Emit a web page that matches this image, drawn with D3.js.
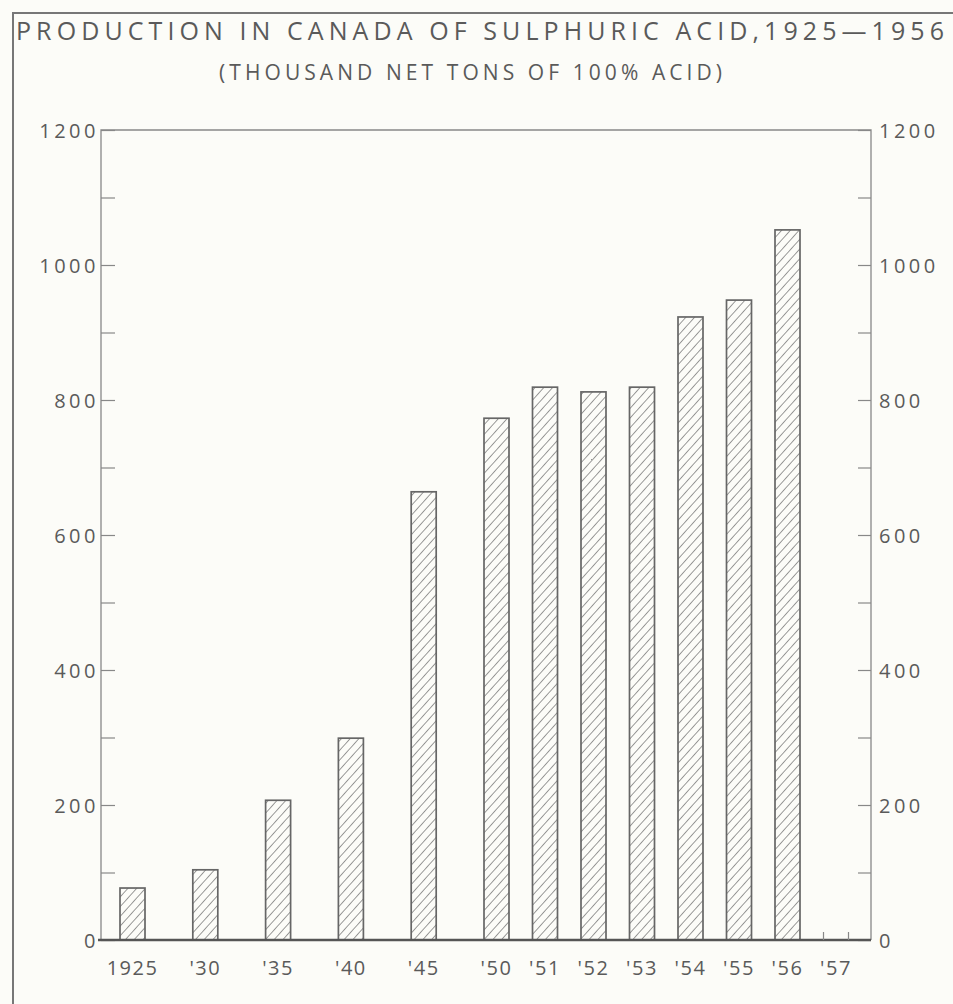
<!DOCTYPE html>
<html>
<head>
<meta charset="utf-8">
<script src="https://cdn.jsdelivr.net/npm/d3@7"></script>
<style>
  html, body { margin: 0; padding: 0; background: #fcfcf8; }
  svg text { font-family: "Open Sans", "DejaVu Sans", sans-serif; font-weight: 400; fill: #5a5a5a; }
</style>
</head>
<body>
<script>
//////////////// Datas ////////////////////
var years = [1925, 1930, 1935, 1940, 1945, 1950, 1951, 1952, 1953, 1954, 1955, 1956];
var production = [77, 104, 207, 299, 664, 773, 819, 812, 819, 923, 948, 1052]; // thousand net tons
var axisYears = [1925, 1930, 1935, 1940, 1945, 1950, 1951, 1952, 1953, 1954, 1955, 1956, 1957];
var axisLabels = ["1925", "'30", "'35", "'40", "'45", "'50", "'51", "'52", "'53", "'54", "'55", "'56", "'57"];
var yTickValues = [0, 100, 200, 300, 400, 500, 600, 700, 800, 900, 1000, 1100, 1200];
var yLabelValues = [0, 200, 400, 600, 800, 1000, 1200];

var dataset = years.map(function(y, i) { return {year: y, value: production[i]}; });

//////////////// Variables ////////////////////
var W = 953, H = 1004;
var plot = {left: 101, right: 871, top: 130, bottom: 940};
var barWidth = 25;
var ink = "#666";

//////////////// SVG ////////////////////
var svg = d3.select("body")
  .append("svg")
  .attr("width", W)
  .attr("height", H);

var defs = svg.append("defs");
var hatch = defs.append("pattern")
  .attr("id", "hatch")
  .attr("patternUnits", "userSpaceOnUse")
  .attr("width", 6.5)
  .attr("height", 6.5)
  .attr("patternTransform", "rotate(42)");
hatch.append("line")
  .attr("x1", 0).attr("y1", 0)
  .attr("x2", 0).attr("y2", 6.5)
  .attr("stroke", "#707070")
  .attr("stroke-width", 1.4);

// outer frame (runs off the page at right and bottom)
svg.append("path")
  .attr("d", "M13," + (H + 5) + "V13H" + (W + 5))
  .attr("fill", "none")
  .attr("stroke", "#777")
  .attr("stroke-width", 2);

//////////////// Titles ////////////////////
svg.append("text")
  .attr("x", 16)
  .attr("y", 40)
  .attr("textLength", 928)
  .attr("lengthAdjust", "spacing")
  .style("font-size", "25px")
  .text("PRODUCTION IN CANADA OF  SULPHURIC ACID,1925\u20141956");

svg.append("text")
  .attr("x", 219)
  .attr("y", 80)
  .attr("textLength", 503)
  .attr("lengthAdjust", "spacing")
  .style("font-size", "21px")
  .text("(THOUSAND NET TONS OF 100%  ACID)");

//////////////// Scaling ///////////////
// the 1950s are drawn year by year, the earlier years every five
var xScale = d3.scaleLinear()
  .domain([1925, 1950, 1957])
  .range([132.5, 496.5, 836]);
var yScale = d3.scaleLinear()
  .domain([0, 1200])
  .range([plot.bottom, plot.top]);

//////////////// Axis ///////////////
var fmt = function(d) { return yLabelValues.indexOf(d) >= 0 ? d : ""; };

var yAxisL = d3.axisLeft(yScale)
  .tickValues(yTickValues)
  .tickSizeInner(-14)
  .tickSizeOuter(0)
  .tickPadding(6)
  .tickFormat(fmt);
var yAxisR = d3.axisRight(yScale)
  .tickValues(yTickValues)
  .tickSizeInner(-13)
  .tickSizeOuter(0)
  .tickPadding(8)
  .tickFormat(fmt);

var gL = svg.append("g")
  .attr("transform", "translate(" + plot.left + ",0)")
  .call(yAxisL);
var gR = svg.append("g")
  .attr("transform", "translate(" + plot.right + ",0)")
  .call(yAxisR);

[gL, gR].forEach(function(g) {
  g.select(".domain").remove();
  g.selectAll(".tick line").attr("stroke", "#888").attr("stroke-width", 1.2);
  g.selectAll(".tick text")
    .attr("fill", "#5a5a5a")
    .style("font-size", "20px")
    .style("letter-spacing", "3.5px")
    .attr("dy", "0.36em");
});
gL.selectAll(".tick text").attr("dx", "4px");

// frame of the plot
svg.append("path")
  .attr("d", "M" + plot.left + "," + yScale(0) + "V" + yScale(1200) + "H" + plot.right + "V" + yScale(0))
  .attr("fill", "none")
  .attr("stroke", "#888")
  .attr("stroke-width", 1.3);

//////////////// Abbild ///////////////
svg.selectAll("rect.bar")
  .data(dataset)
  .enter()
  .append("rect")
  .attr("class", "bar")
  .attr("x", function(d) { return xScale(d.year) - barWidth / 2; })
  .attr("y", function(d) { return yScale(d.value); })
  .attr("width", barWidth)
  .attr("height", function(d) { return yScale(0) - yScale(d.value); })
  .attr("fill", "url(#hatch)")
  .attr("stroke", ink)
  .attr("stroke-width", 1.7);

// base line
svg.append("line")
  .attr("x1", plot.left - 3)
  .attr("x2", plot.right)
  .attr("y1", yScale(0))
  .attr("y2", yScale(0))
  .attr("stroke", "#555")
  .attr("stroke-width", 2.4);

// small ticks marking the empty 1957 slot
svg.selectAll("line.slot")
  .data([-1, 1])
  .enter()
  .append("line")
  .attr("class", "slot")
  .attr("x1", function(s) { return xScale(1957) + s * barWidth / 2; })
  .attr("x2", function(s) { return xScale(1957) + s * barWidth / 2; })
  .attr("y1", yScale(0))
  .attr("y2", yScale(0) - 8)
  .attr("stroke", "#888")
  .attr("stroke-width", 1.2);

// year labels
svg.selectAll("text.year")
  .data(axisYears)
  .enter()
  .append("text")
  .attr("class", "year")
  .attr("x", function(d) { return xScale(d); })
  .attr("y", 975)
  .attr("text-anchor", "middle")
  .style("font-size", "20px")
  .style("letter-spacing", "1.5px")
  .text(function(d, i) { return axisLabels[i]; });
</script>
</body>
</html>
